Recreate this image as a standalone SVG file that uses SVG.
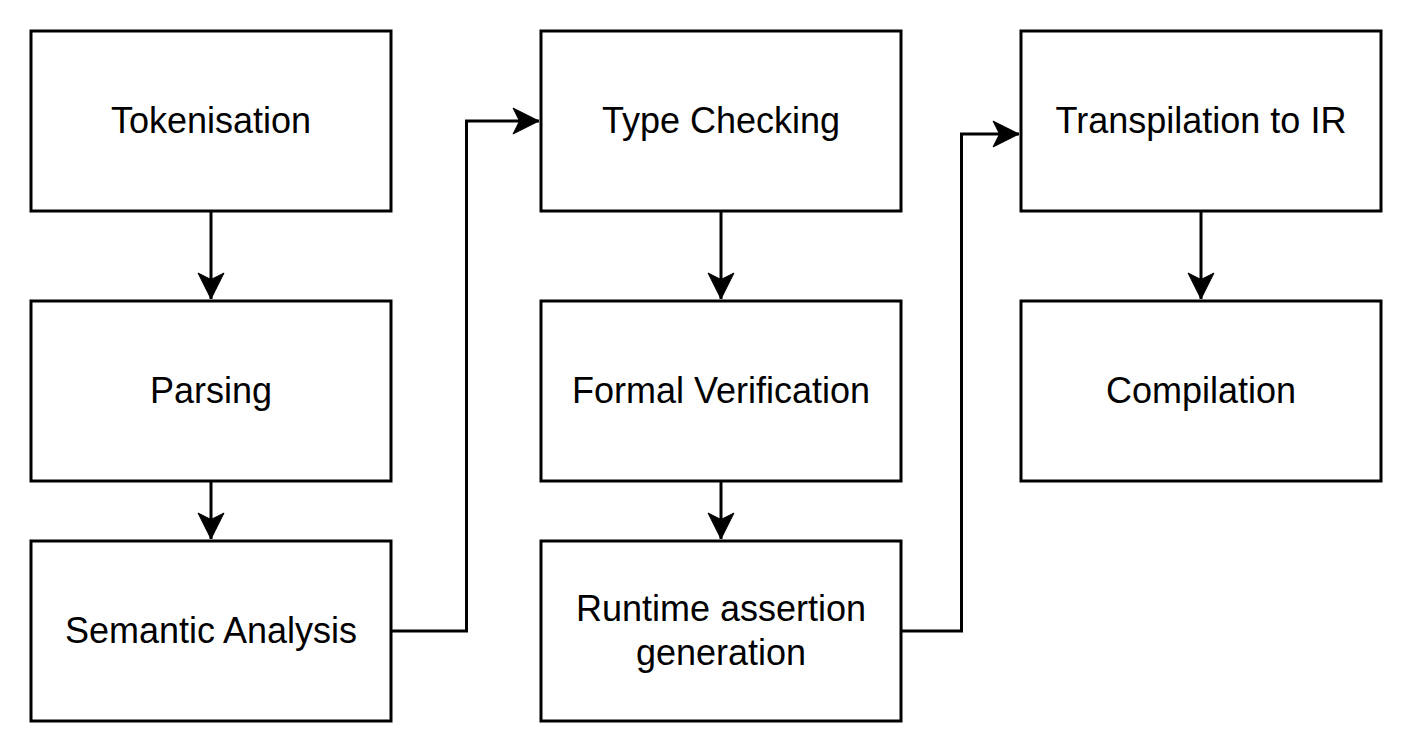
<svg xmlns="http://www.w3.org/2000/svg" width="1413" height="753" viewBox="0 0 1413 753">
<style>
.box{fill:#fff;stroke:#000;stroke-width:3}
.lbl{font-family:"Liberation Sans",Arial,sans-serif;font-size:36px;fill:#000;text-anchor:middle}
.edge{fill:none;stroke:#000;stroke-width:3}
</style>
<defs>
<marker id="arr" markerUnits="userSpaceOnUse" markerWidth="32" markerHeight="32" viewBox="0 0 32 32" refX="27" refY="16" orient="auto">
<path d="M27,16 L1,3 L7.5,16 L1,29 Z" fill="#000" stroke="#000" stroke-width="1"/>
</marker>
</defs>
<rect width="1413" height="753" fill="#fff"/>
<g id="n-tokenisation"><rect class="box" x="31" y="31" width="360" height="180"/><text class="lbl" x="211" y="132.5">Tokenisation</text></g>
<g id="n-parsing"><rect class="box" x="31" y="301" width="360" height="180"/><text class="lbl" x="211" y="402.5">Parsing</text></g>
<g id="n-semantic"><rect class="box" x="31" y="541" width="360" height="180"/><text class="lbl" x="211" y="642.5">Semantic Analysis</text></g>
<g id="n-type"><rect class="box" x="541" y="31" width="360" height="180"/><text class="lbl" x="721" y="132.5">Type Checking</text></g>
<g id="n-formal"><rect class="box" x="541" y="301" width="360" height="180"/><text class="lbl" x="721" y="402.5">Formal Verification</text></g>
<g id="n-runtime"><rect class="box" x="541" y="541" width="360" height="180"/><text class="lbl" x="721" y="621"><tspan x="721">Runtime assertion</tspan><tspan x="721" dy="44">generation</tspan></text></g>
<g id="n-transpile"><rect class="box" x="1021" y="31" width="360" height="180"/><text class="lbl" x="1201" y="132.5">Transpilation to IR</text></g>
<g id="n-compile"><rect class="box" x="1021" y="301" width="360" height="180"/><text class="lbl" x="1201" y="402.5">Compilation</text></g>
<g id="connectors">
<path class="edge" d="M211,211 V299" marker-end="url(#arr)"/>
<path class="edge" d="M211,481 V539" marker-end="url(#arr)"/>
<path class="edge" d="M391,631 H466.5 V121 H539" marker-end="url(#arr)"/>
<path class="edge" d="M721,211 V299" marker-end="url(#arr)"/>
<path class="edge" d="M721,481 V539" marker-end="url(#arr)"/>
<path class="edge" d="M901,631 H961.5 V134 H1019" marker-end="url(#arr)"/>
<path class="edge" d="M1201,211 V299" marker-end="url(#arr)"/>
</g>
</svg>
